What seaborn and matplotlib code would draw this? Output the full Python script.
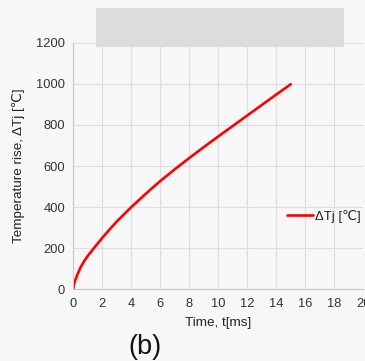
import numpy as np
import pandas as pd
import matplotlib
matplotlib.use("Agg")
import matplotlib.pyplot as plt
import seaborn as sns
from matplotlib.patches import Rectangle

# values
time_ms = [0, 0.05, 0.1, 0.25, 0.5, 0.75, 1, 1.5, 2, 2.5, 3, 4, 5, 6, 7, 8, 9, 10, 11, 12, 13, 14, 15]
delta_tj = [0, 25, 37, 66, 106, 137, 163, 207, 250, 291, 330, 400, 465, 527, 584, 639, 692, 744, 795, 846, 897, 948, 998]
x_ticks = [0, 2, 4, 6, 8, 10, 12, 14, 16, 18, 20]
y_ticks = [0, 200, 400, 600, 800, 1000, 1200]

df = pd.DataFrame({"t": time_ms, "dTj": delta_tj})

sns.set_style("whitegrid")
plt.rcParams['font.family'] = ['Liberation Sans', 'DejaVu Sans']

bg = '#f7f7f7'
fig = plt.figure(figsize=(3.65, 3.61), dpi=100, facecolor=bg)
ax = fig.add_axes([0.2008, 0.1986, 0.7945, 0.683])
ax.set_facecolor(bg)

sns.lineplot(data=df, x="t", y="dTj", color='#ff0000', linewidth=1.9, ax=ax, label="ΔTj [℃]")

ax.set_xlim(0, 20)
ax.set_ylim(0, 1200)
ax.set_xticks(x_ticks)
ax.set_yticks(y_ticks)
ax.grid(True, color='#dedede', linewidth=0.8)
for s in ['top', 'right']:
    ax.spines[s].set_visible(False)
for s in ['left', 'bottom']:
    ax.spines[s].set_color('#c8c8c8')
    ax.spines[s].set_linewidth(0.8)
ax.tick_params(axis='both', labelsize=9.3, colors='#c8c8c8', labelcolor='#333333',
               length=4, width=0.8, direction='out', pad=2)

ax.set_xlabel("Time, t[ms]", fontsize=9.7, color='#222222', labelpad=5)
ax.set_ylabel("Temperature rise, ΔTj [℃]", fontsize=9.7, color='#222222', labelpad=8)

ax.legend(loc='center left', bbox_to_anchor=(0.737, 0.297), frameon=False,
          fontsize=9.5, handlelength=2.0, handletextpad=0.15, borderpad=0, borderaxespad=0,
          labelcolor='#222222')

# grey title placeholder box
fig.patches.append(Rectangle((96 / 365, 1 - 47 / 361), 248 / 365, 39 / 361,
                             transform=fig.transFigure, facecolor='#dcdcdc',
                             edgecolor='none', zorder=10))

fig.text(145 / 365, 1 - 354 / 361, "(b)", fontsize=19.5, ha='center', va='baseline', color='#111111')

fig.savefig("out.png", dpi=100, facecolor=bg)
